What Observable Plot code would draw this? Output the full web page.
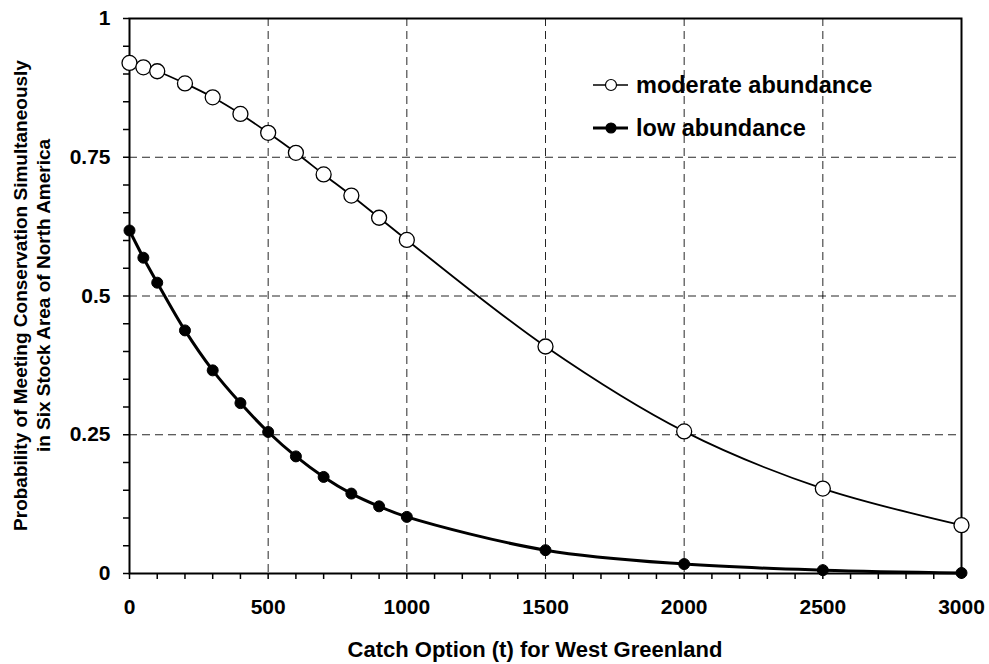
<!DOCTYPE html>
<html><head><meta charset="utf-8">
<script src="https://cdn.jsdelivr.net/npm/d3@7"></script>
<script src="https://cdn.jsdelivr.net/npm/@observablehq/plot@0.6"></script>
<style>
body{margin:0;background:#fff}
#chart{position:relative;width:989px;height:664px}
</style>
</head><body><div id="chart"></div>
<script>
const catchOptions = [0,50,100,200,300,400,500,600,700,800,900,1000,1500,2000,2500,3000];
const moderate = [0.920,0.912,0.905,0.883,0.858,0.828,0.794,0.758,0.719,0.681,0.641,0.601,0.409,0.256,0.153,0.087];
const low = [0.618,0.569,0.524,0.438,0.366,0.307,0.255,0.211,0.174,0.144,0.121,0.102,0.042,0.017,0.006,0.001];
const xTicks = [0,500,1000,1500,2000,2500,3000];
const yTicks = [0,0.25,0.5,0.75,1];
const xGrid = [500,1000,1500,2000,2500];
const yGrid = [0.25,0.5,0.75];
const seriesNames = ["moderate abundance","low abundance"];
const xTitle = "Catch Option (t) for West Greenland";
const yTitle = ["Probability of Meeting Conservation Simultaneously","in Six Stock Area of North America"];

const modData = catchOptions.map((c,i)=>({c, p: moderate[i]}));
const lowData = catchOptions.map((c,i)=>({c, p: low[i]}));
const xMinor = d3.range(0, 3001, 100);
const yMinor = d3.range(0, 1.0001, 0.05).map(v => +v.toFixed(2));

const font = "'Liberation Sans', Arial, sans-serif";
const W = 989, H = 664, ML = 129, MR = 28, MT = 18, MB = 91;

const plot = Plot.plot({
  width: W, height: H,
  marginLeft: ML, marginRight: MR, marginTop: MT, marginBottom: MB,
  style: {fontFamily: font, fontWeight: "bold", fontSize: "21px", color: "#000", background: "#fff"},
  x: {domain: [0, 3000]},
  y: {domain: [0, 1]},
  marks: [
    Plot.gridX(xGrid, {stroke: "#000", strokeOpacity: 0.85, strokeWidth: 1, strokeDasharray: "8,5"}),
    Plot.gridY(yGrid, {stroke: "#000", strokeOpacity: 0.85, strokeWidth: 1, strokeDasharray: "8,5"}),
    Plot.axisX(xMinor, {tickSize: 6, tickFormat: () => "", label: null, stroke: "#000", strokeWidth: 1.5}),
    Plot.axisY(yMinor, {tickSize: 6, tickFormat: () => "", label: null, stroke: "#000", strokeWidth: 1.5}),
    Plot.axisX(xTicks, {tickSize: 0, tickPadding: 26, tickFormat: d => String(d), label: null, fontSize: 21, fontWeight: "bold", fill: "#000"}),
    Plot.axisY(yTicks, {tickSize: 0, tickPadding: 19, tickFormat: d => String(d), label: null, fontSize: 21, fontWeight: "bold", fill: "#000"}),
    Plot.frame({stroke: "#000", strokeWidth: 2}),
    Plot.line(modData, {x: "c", y: "p", stroke: "#000", strokeWidth: 1.8, curve: "catmull-rom"}),
    Plot.line(lowData, {x: "c", y: "p", stroke: "#000", strokeWidth: 3, curve: "catmull-rom"}),
    Plot.dot(modData, {x: "c", y: "p", r: 7.5, fill: "#fff", stroke: "#000", strokeWidth: 1.3}),
    Plot.dot(lowData, {x: "c", y: "p", r: 5.5, fill: "#000", stroke: "#000", strokeWidth: 1})
  ]
});
document.getElementById("chart").appendChild(plot);

const svg = d3.select(plot);
// axis titles
svg.append("text").attr("x", (ML + W - MR) / 2 - 10).attr("y", 657)
  .attr("text-anchor", "middle").attr("font-family", font).attr("font-weight", "bold")
  .attr("font-size", 22).attr("fill", "#000").text(xTitle);
const yc = (MT + H - MB) / 2;
yTitle.forEach((t, i) => {
  svg.append("text").attr("transform", `translate(${27 + i * 23},${yc}) rotate(-90)`)
    .attr("text-anchor", "middle").attr("font-family", font).attr("font-weight", "bold")
    .attr("font-size", 19).attr("fill", "#000").text(t);
});
// legend
const lg = svg.append("g").attr("font-family", font).attr("font-weight", "bold").attr("font-size", 23.5).attr("text-anchor", "start");
const legendRows = [
  {name: seriesNames[0], y: 85, fill: "#fff", r: 5.5, sw: 1.5},
  {name: seriesNames[1], y: 128, fill: "#000", r: 5, sw: 3}
];
legendRows.forEach(d => {
  lg.append("line").attr("x1", 593).attr("x2", 628).attr("y1", d.y).attr("y2", d.y)
    .attr("stroke", "#000").attr("stroke-width", d.sw);
  lg.append("circle").attr("cx", 611).attr("cy", d.y).attr("r", d.r)
    .attr("fill", d.fill).attr("stroke", "#000").attr("stroke-width", 1.2);
  lg.append("text").attr("x", 636).attr("y", d.y).attr("dy", "0.36em").attr("fill", "#000").attr("text-anchor", "start").text(d.name);
});
</script>
</body></html>
